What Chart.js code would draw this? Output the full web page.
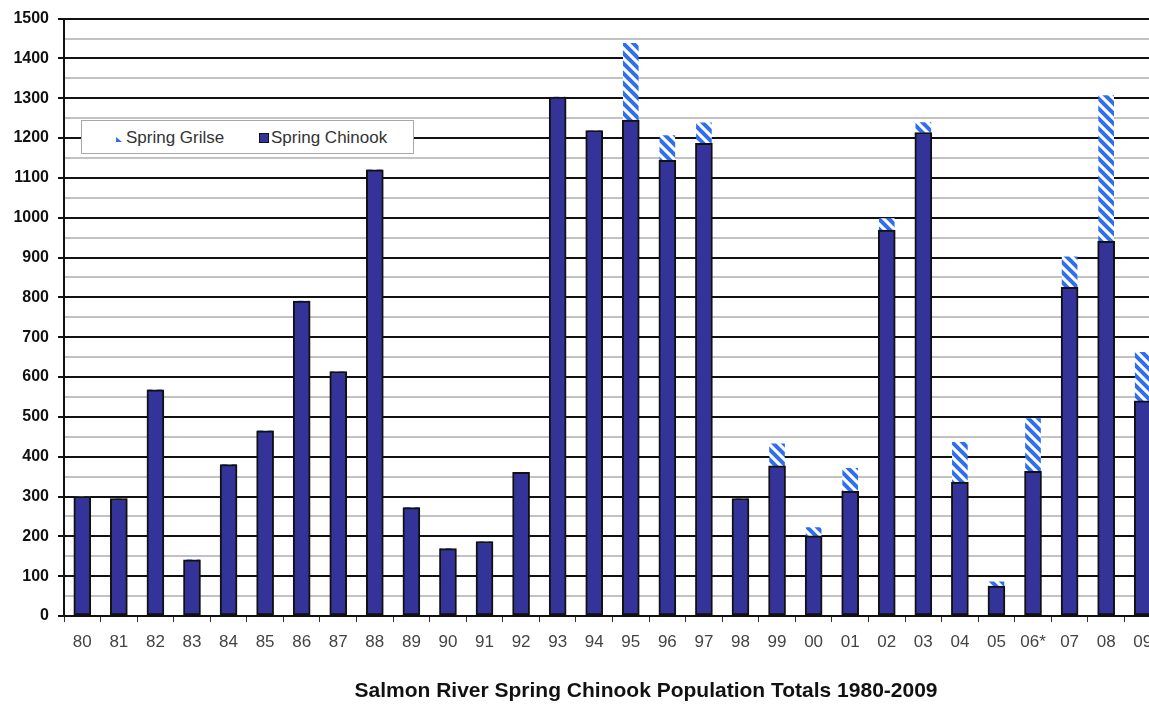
<!DOCTYPE html>
<html>
<head>
<meta charset="utf-8">
<script src="https://cdn.jsdelivr.net/npm/chart.js@4/dist/chart.umd.min.js"></script>
<style>
    body { margin: 0; background: #fff; overflow: hidden; }
    #wrap { position: relative; width: 1149px; height: 708px; overflow: hidden; }
    #graficoSalmon { position: absolute; left: 0; top: 0; }
    #leyenda {
        position: absolute; left: 81px; top: 120px; width: 333px; height: 34px;
        background: #fff; border: 1px solid #a8a8a8; box-sizing: border-box;
        font-family: 'Liberation Sans', Arial, sans-serif; font-size: 17px; color: #333;
    }
    #leyenda span.txt { position: absolute; top: 7px; white-space: nowrap; }
    #mkGrilse {
        position: absolute; left: 34px; top: 16px; width: 6px; height: 5px;
        background: #2f6fef; clip-path: polygon(0 0, 0 100%, 100% 100%);
    }
    #mkChinook {
        position: absolute; left: 177px; top: 12px; width: 10px; height: 10px;
        background: #333399; border: 1.5px solid #111; box-sizing: border-box;
    }
    #titulo {
        position: absolute; left: 0; top: 678px; width: 1292px; text-align: center;
        font-family: 'Liberation Sans', Arial, sans-serif; font-size: 21px; font-weight: bold; color: #111;
    }
</style>
</head>
<body>
<div id="wrap">
    <canvas id="graficoSalmon" width="1170" height="708"></canvas>
    <div id="leyenda">
        <div id="mkGrilse"></div><span class="txt" style="left:44px">Spring Grilse</span>
        <div id="mkChinook"></div><span class="txt" style="left:189px">Spring Chinook</span>
    </div>
    <div id="titulo">Salmon River Spring Chinook Population Totals 1980-2009</div>
</div>
<script>
const anios = ['80', '81', '82', '83', '84', '85', '86', '87', '88', '89',
    '90', '91', '92', '93', '94', '95', '96', '97', '98', '99',
    '00', '01', '02', '03', '04', '05', '06*', '07', '08', '09'];
const chinook = [300, 295, 568, 141, 380, 465, 791, 614, 1120, 272,
    169, 187, 361, 1303, 1219, 1245, 1144, 1187, 295, 377,
    201, 313, 969, 1214, 336, 75, 363, 825, 941, 540];
const grilse = [0, 0, 0, 0, 0, 0, 0, 0, 0, 0,
    0, 0, 0, 0, 0, 193, 62, 51, 0, 55,
    21, 58, 29, 25, 100, 11, 133, 77, 366, 122];
const yMax = 1500;

function rayado(ctx) {
    const c = document.createElement('canvas');
    c.width = 10; c.height = 10;
    const g = c.getContext('2d');
    g.fillStyle = '#fff';
    g.fillRect(0, 0, 10, 10);
    g.strokeStyle = '#2f6fef';
    g.lineWidth = 4;
    g.beginPath();
    g.moveTo(-3, -3); g.lineTo(13, 13);
    g.moveTo(-3, 7); g.lineTo(3, 13);
    g.moveTo(7, -3); g.lineTo(13, 3);
    g.stroke();
    return ctx.createPattern(c, 'repeat');
}

const canvas = document.getElementById('graficoSalmon');
const ctx = canvas.getContext('2d');
const esMayor = (v) => v % 100 === 0;

new Chart(ctx, {
    type: 'bar',
    data: {
        labels: anios,
        datasets: [
            {
                label: 'Spring Chinook',
                data: chinook,
                backgroundColor: '#333399',
                borderColor: '#111',
                borderWidth: 2,
                borderSkipped: false,
                barThickness: 17,
            },
            {
                label: 'Spring Grilse',
                data: grilse,
                backgroundColor: rayado(ctx),
                borderWidth: 0,
                barThickness: 15,
            },
        ],
    },
    options: {
        responsive: false,
        animation: false,
        layout: { padding: { top: 14, right: 9, left: 0, bottom: 0 } },
        plugins: {
            legend: { display: false },
            tooltip: { enabled: false },
        },
        scales: {
            x: {
                stacked: true,
                afterFit: (s) => { s.height = 92; },
                grid: { drawOnChartArea: false, tickLength: 6, color: '#333', lineWidth: 1, offset: true },
                border: { color: '#111', width: 2 },
                ticks: {
                    color: '#444', padding: 10, maxRotation: 0, autoSkip: false,
                    font: { family: 'Liberation Sans', size: 17 },
                },
            },
            y: {
                stacked: true,
                min: 0,
                max: yMax,
                afterFit: (s) => { s.width = 64; },
                grid: {
                    lineWidth: 2,
                    tickLength: 6,
                    color: (c) => esMayor(c.tick.value) ? '#111' : '#c2c2c2',
                    tickColor: (c) => esMayor(c.tick.value) ? '#111' : 'rgba(0,0,0,0)',
                },
                border: { color: '#111', width: 2 },
                ticks: {
                    stepSize: 50,
                    autoSkip: false,
                    padding: 9,
                    color: '#111',
                    font: { family: 'Liberation Sans', size: 16, weight: 'bold' },
                    callback: (v) => esMayor(v) ? v : '',
                },
            },
        },
    },
});
</script>
</body>
</html>
